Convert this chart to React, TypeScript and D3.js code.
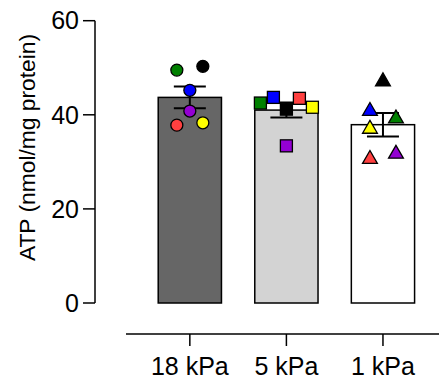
import React from "react";
import * as d3 from "d3";

// groups and summary values
const groups = ["18 kPa", "5 kPa", "1 kPa"];
const means = [43.7, 41.0, 37.9];
const sems = [2.3, 1.6, 2.5];
const barFills = ["#666666", "#d3d3d3", "#ffffff"];
const shapes = ["circle", "square", "triangle"];

// individual points, per group: [value, offset slot]
const pointColors18 = ["#008000", "#000000", "#0000ff", "#9400d3", "#ff4040", "#ffff00"];
const pointValues18 = [49.5, 50.3, 45.2, 40.8, 37.8, 38.3];
const pointSlots18 = [-1, 1, 0, 0, -1, 1];

const pointColors5 = ["#008000", "#0000ff", "#000000", "#ff4040", "#ffff00", "#9400d3"];
const pointValues5 = [42.5, 43.7, 41.2, 43.5, 41.6, 33.4];
const pointSlots5 = [-2, -1, 0, 1, 2, 0];

const pointColors1 = ["#000000", "#0000ff", "#008000", "#ffff00", "#ff4040", "#9400d3"];
const pointValues1 = [47.3, 41.0, 39.4, 37.2, 30.8, 31.9];
const pointSlots1 = [0, -1, 1, -1, -1, 1];

const yTicks = [0, 20, 40, 60];

const App = () => {
  const width = 439,
    height = 379;
  const y = d3.scaleLinear().domain([0, 60]).range([303, 20.7]);
  const x = d3.scaleBand().domain(groups).range([141.8, 431]).paddingInner(0.345).paddingOuter(0.17);
  const axisX = 95;
  const xAxisY = 334;
  const bw = x.bandwidth();

  const pts = [
    { colors: pointColors18, values: pointValues18, slots: pointSlots18 },
    { colors: pointColors5, values: pointValues5, slots: pointSlots5 },
    { colors: pointColors1, values: pointValues1, slots: pointSlots1 },
  ];

  const drawPoint = (shape, cx, cy, fill, key) => {
    if (shape === "circle") {
      return <circle key={key} cx={cx} cy={cy} r={6} fill={fill} stroke="#000" strokeWidth={1.3} />;
    }
    if (shape === "square") {
      return <rect key={key} x={cx - 6} y={cy - 6} width={12} height={12} fill={fill} stroke="#000" strokeWidth={1.3} />;
    }
    const p = d3.symbol().type(d3.symbolTriangle).size(95)();
    return <path key={key} d={p} transform={`translate(${cx},${cy + 1})`} fill={fill} stroke="#000" strokeWidth={1.3} />;
  };

  return (
    <svg width={width} height={height} style={{ position: "absolute", left: 0, top: 0 }} fontFamily="Liberation Sans, Arial, sans-serif">
      {/* bars */}
      {groups.map((g, i) => (
        <rect key={g} x={x(g)} y={y(means[i])} width={bw} height={y(0) - y(means[i])} fill={barFills[i]} stroke="#000" strokeWidth={1.5} />
      ))}

      {/* error bars */}
      {groups.map((g, i) => {
        const cx = x(g) + bw / 2;
        return (
          <g key={g} stroke="#000" strokeWidth={2}>
            <line x1={cx} x2={cx} y1={y(means[i] + sems[i])} y2={y(means[i] - sems[i])} />
            <line x1={cx - 16} x2={cx + 16} y1={y(means[i] + sems[i])} y2={y(means[i] + sems[i])} />
            <line x1={cx - 16} x2={cx + 16} y1={y(means[i] - sems[i])} y2={y(means[i] - sems[i])} />
          </g>
        );
      })}

      {/* points */}
      {groups.map((g, i) => {
        const cx = x(g) + bw / 2;
        return (
          <g key={g}>
            {pts[i].values.map((v, j) => drawPoint(shapes[i], cx + pts[i].slots[j] * 13, y(v), pts[i].colors[j], j))}
          </g>
        );
      })}

      {/* y axis */}
      <line x1={axisX} x2={axisX} y1={y(60)} y2={y(0)} stroke="#000" strokeWidth={1.5} />
      {yTicks.map((t) => (
        <g key={t}>
          <line x1={axisX - 12} x2={axisX} y1={y(t)} y2={y(t)} stroke="#000" strokeWidth={1.5} />
          <text x={axisX - 16} y={y(t)} dy="0.35em" textAnchor="end" fontSize={25}>
            {t}
          </text>
        </g>
      ))}
      <text transform={`translate(35,147.5) rotate(-90)`} textAnchor="middle" fontSize={22.8}>
        ATP (nmol/mg protein)
      </text>

      {/* x axis */}
      <line x1={126} x2={439} y1={xAxisY} y2={xAxisY} stroke="#000" strokeWidth={1.5} />
      {groups.map((g) => {
        const cx = x(g) + bw / 2;
        return (
          <g key={g}>
            <line x1={cx} x2={cx} y1={xAxisY} y2={xAxisY + 12} stroke="#000" strokeWidth={1.5} />
            <text x={cx} y={375} textAnchor="middle" fontSize={25}>
              {g}
            </text>
          </g>
        );
      })}
    </svg>
  );
};

export default App;
